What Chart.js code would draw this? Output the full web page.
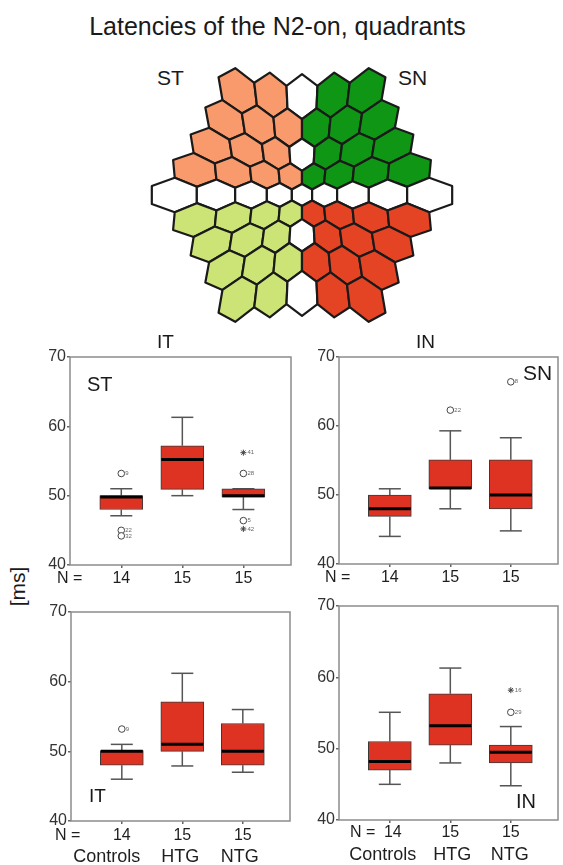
<!DOCTYPE html>
<html>
<head>
<meta charset="utf-8">
<script src="https://cdn.jsdelivr.net/npm/chart.js@4.4.1/dist/chart.umd.min.js"></script>
<style>
  body { margin: 0; background: #fff; font-family: "Liberation Sans", Arial, sans-serif; color: #1a1a1a; }
  #page { position: relative; width: 563px; height: 865px; overflow: hidden; }
  .lbl { position: absolute; white-space: nowrap; line-height: 1; }
  canvas { position: absolute; }
</style>
</head>
<body>
<div id="page">
  <div class="lbl" style="left:0;width:555px;text-align:center;top:14px;font-size:25px;">Latencies of the N2-on, quadrants</div>
  <div class="lbl" style="left:157px;top:67px;font-size:21px;">ST</div>
  <div class="lbl" style="left:398px;top:67px;font-size:21px;">SN</div>
  <canvas id="hex" width="350" height="290" style="left:130px;top:50px;"></canvas>

  <div class="lbl" style="left:157px;top:332px;font-size:19px;">IT</div>
  <div class="lbl" style="left:416px;top:332px;font-size:19px;">IN</div>
  <div class="lbl" style="left:-7px;top:576px;width:48px;text-align:center;font-size:21px;transform:rotate(-90deg);">[ms]</div>

  <canvas id="st" width="270" height="260" style="left:30px;top:345px;"></canvas>
  <canvas id="sn" width="264" height="259" style="left:299px;top:345px;"></canvas>
  <canvas id="it" width="269" height="265" style="left:31px;top:600px;"></canvas>
  <canvas id="in" width="264" height="271" style="left:299px;top:594px;"></canvas>

  <div class="lbl" style="left:87px;top:374px;font-size:20px;">ST</div>
  <div class="lbl" style="left:523px;top:362px;font-size:21px;">SN</div>
  <div class="lbl" style="left:89px;top:786px;font-size:19px;">IT</div>
  <div class="lbl" style="left:516px;top:791px;font-size:20px;">IN</div>
</div>
<script>
// hexagon field: number of cells per row, top to bottom
const hexRowCounts = [5, 6, 7, 8, 9, 8, 7, 6, 5];
const quadrantFill = { ST: '#F89A6B', SN: '#0E9614', IT: '#CCE475', IN: '#E54424' };

// box plot groups
const groups = ['Controls', 'HTG', 'NTG'];
const groupN = ['14', '15', '15'];

// ST quadrant
const stLow = [47.1, 50, 48];
const stQ1 = [48, 50.9, 49.8];
const stMedian = [49.8, 55.2, 50];
const stQ3 = [50, 57.2, 51];
const stHigh = [51, 61.3, 51];
const stOutX = [1, 1, 1, 3, 3, 3, 3];
const stOutY = [53.2, 45.0, 44.2, 56.2, 53.2, 46.4, 45.2];
const stOutStar = [0, 0, 0, 1, 0, 0, 1];
const stOutId = ['9', '22', '32', '41', '28', '5', '42'];

// SN quadrant
const snLow = [44, 48, 44.8];
const snQ1 = [46.9, 50.9, 48];
const snMedian = [48, 51, 50];
const snQ3 = [50, 55.1, 55.1];
const snHigh = [50.9, 59.3, 58.3];
const snOutX = [2, 3];
const snOutY = [62.3, 66.4];
const snOutStar = [0, 0];
const snOutId = ['22', '8'];

// IT quadrant
const itLow = [46, 47.9, 47];
const itQ1 = [48, 50, 48];
const itMedian = [50, 51, 50];
const itQ3 = [50.1, 57.1, 54];
const itHigh = [51, 61.2, 56];
const itOutX = [1];
const itOutY = [53.2];
const itOutStar = [0];
const itOutId = ['9'];

// IN quadrant
const inLow = [45, 48, 44.8];
const inQ1 = [47, 50.5, 48];
const inMedian = [48.2, 53.2, 49.5];
const inQ3 = [51, 57.7, 50.5];
const inHigh = [55.1, 61.3, 53.1];
const inOutX = [3, 3];
const inOutY = [58.2, 55.1];
const inOutStar = [1, 0];
const inOutId = ['16', '29'];

const FONT = '"Liberation Sans", Arial, sans-serif';

// ---------- hexagon chart ----------
const SQ3 = Math.sqrt(3);
const warp = (x, y) => {
  const f = 1 + 0.182 * Math.hypot(x, y);
  return [x * f, y * f];
};
const hexCells = [];
hexRowCounts.forEach((n, row) => {
  const k = row - 4;
  for (let i = 0; i < n; i++) {
    const cx = i - (n - 1) / 2;
    const cy = -k * SQ3 / 2;
    let q = null;
    if (cx !== 0 && cy !== 0) q = (cy > 0 ? 'S' : 'I') + (cx < 0 ? 'T' : 'N');
    hexCells.push({ cx, cy, q });
  }
});

const hexPlugin = {
  id: 'hexCells',
  beforeDatasetsDraw(chart) {
    const { ctx, scales: { x, y } } = chart;
    const s = 1 / SQ3;
    ctx.save();
    ctx.lineJoin = 'round';
    ctx.lineWidth = 2.2;
    ctx.strokeStyle = '#1a1a1a';
    hexCells.forEach(c => {
      ctx.beginPath();
      for (let j = 0; j < 6; j++) {
        const a = Math.PI / 2 + j * Math.PI / 3;
        const [wx, wy] = warp(c.cx + s * Math.cos(a), c.cy + s * Math.sin(a));
        const px = x.getPixelForValue(wx), py = y.getPixelForValue(wy);
        j ? ctx.lineTo(px, py) : ctx.moveTo(px, py);
      }
      ctx.closePath();
      ctx.fillStyle = c.q ? quadrantFill[c.q] : '#ffffff';
      ctx.fill();
      ctx.stroke();
    });
    ctx.restore();
  }
};

new Chart(document.getElementById('hex'), {
  type: 'scatter',
  data: { datasets: [{ data: hexCells.map(c => { const [x, y] = warp(c.cx, c.cy); return { x, y }; }), pointRadius: 0 }] },
  options: {
    responsive: false, animation: false, events: [],
    layout: { padding: 0 },
    plugins: { legend: { display: false }, tooltip: { enabled: false } },
    scales: {
      x: { type: 'linear', display: false, min: -9.383, max: 9.711 },
      y: { type: 'linear', display: false, min: -8.415, max: 8.415 }
    }
  },
  plugins: [hexPlugin]
});

// ---------- box plots ----------
const line = (ctx, x1, y1, x2, y2) => { ctx.beginPath(); ctx.moveTo(x1, y1); ctx.lineTo(x2, y2); ctx.stroke(); };

const boxPlugin = {
  id: 'boxExtras',
  beforeDatasetsDraw(chart, args, o) {
    const { ctx, scales: { x, y } } = chart;
    ctx.save();
    ctx.strokeStyle = '#555';
    ctx.lineWidth = 1.5;
    o.q1.forEach((q, i) => {
      const cx = x.getPixelForValue(i + 1);
      const lo = y.getPixelForValue(o.low[i]), hi = y.getPixelForValue(o.high[i]);
      line(ctx, cx, lo, cx, y.getPixelForValue(o.q1[i]));
      line(ctx, cx, hi, cx, y.getPixelForValue(o.q3[i]));
      line(ctx, cx - 11, lo, cx + 11, lo);
      line(ctx, cx - 11, hi, cx + 11, hi);
    });
    ctx.restore();
  },
  afterDatasetsDraw(chart, args, o) {
    const { ctx, chartArea: a, scales: { x, y } } = chart;
    ctx.save();
    ctx.strokeStyle = '#000';
    ctx.lineWidth = 3;
    o.median.forEach((m, i) => {
      const cx = x.getPixelForValue(i + 1), py = y.getPixelForValue(m);
      line(ctx, cx - 21, py, cx + 21, py);
    });
    // outlier case numbers
    ctx.fillStyle = '#666';
    ctx.font = '6px ' + FONT;
    ctx.textBaseline = 'middle';
    o.outX.forEach((v, i) => {
      ctx.fillText(o.outId[i], x.getPixelForValue(v) + 4, y.getPixelForValue(o.outY[i]));
    });
    // frame
    ctx.strokeStyle = '#8c8c8c';
    ctx.lineWidth = 1.5;
    ctx.strokeRect(a.left, a.top, a.right - a.left, a.bottom - a.top);
    // N row and group names
    ctx.fillStyle = '#1e1e1e';
    ctx.textBaseline = 'alphabetic';
    ctx.font = '16px ' + FONT;
    ctx.textAlign = 'left';
    ctx.fillText('N =', a.left + o.nX, a.bottom + o.nY);
    ctx.textAlign = 'center';
    groupN.forEach((n, i) => ctx.fillText(n, x.getPixelForValue(i + 1) + (o.nShift ? o.nShift[i] : 0), a.bottom + o.nY));
    if (o.showGroups) {
      ctx.font = '18px ' + FONT;
      groups.forEach((g, i) => ctx.fillText(g, x.getPixelForValue(i + 1) + o.gShift[i], a.bottom + o.gY));
    }
    ctx.restore();
  }
};

function makeBoxChart(id, d, lay) {
  return new Chart(document.getElementById(id), {
    type: 'bar',
    data: {
      datasets: [
        {
          type: 'bar',
          data: groups.map((g, i) => ({ x: i + 1, y: [d.q1[i], d.q3[i]] })),
          backgroundColor: '#DE3323', borderColor: '#3a3a3a', borderWidth: 1,
          borderSkipped: false, barThickness: 43
        },
        {
          type: 'scatter',
          data: d.outX.map((v, i) => ({ x: v, y: d.outY[i] })),
          pointStyle: d.outStar.map(s => s ? 'star' : 'circle'),
          pointRadius: d.outStar.map(s => s ? 3 : 3.3),
          pointBackgroundColor: '#fff', pointBorderColor: '#444', pointBorderWidth: 1
        }
      ]
    },
    options: {
      responsive: false, animation: false, events: [],
      layout: { padding: { top: lay.top, right: lay.right, left: 0, bottom: 0 } },
      plugins: {
        legend: { display: false }, tooltip: { enabled: false },
        boxExtras: Object.assign({}, d, lay)
      },
      scales: {
        x: {
          type: 'linear', min: 0.16, max: 3.78, offset: false,
          afterBuildTicks: s => { s.ticks = [1, 2, 3].map(v => ({ value: v })); },
          afterFit: s => { s.height = lay.xH; },
          ticks: { display: false },
          grid: { drawOnChartArea: false, offset: false, tickLength: 3, color: '#666', lineWidth: 1.5 },
          border: { display: false }
        },
        y: {
          min: 40, max: 70,
          afterBuildTicks: s => { s.ticks = [40, 50, 60, 70].map(v => ({ value: v })); },
          afterFit: s => { s.width = 40; },
          ticks: { color: '#333', font: { family: FONT, size: 16 }, padding: 1 },
          grid: { drawOnChartArea: false, tickLength: 3, color: '#666', lineWidth: 1.5 },
          border: { display: false }
        }
      }
    },
    plugins: [boxPlugin]
  });
}

makeBoxChart('st',
  { low: stLow, q1: stQ1, median: stMedian, q3: stQ3, high: stHigh, outX: stOutX, outY: stOutY, outStar: stOutStar, outId: stOutId },
  { top: 12, right: 9, xH: 40, nX: -13, nY: 18, showGroups: false });
makeBoxChart('sn',
  { low: snLow, q1: snQ1, median: snMedian, q3: snQ3, high: snHigh, outX: snOutX, outY: snOutY, outStar: snOutStar, outId: snOutId },
  { top: 12, right: 4, xH: 40, nX: -14, nY: 18, showGroups: false });
makeBoxChart('it',
  { low: itLow, q1: itQ1, median: itMedian, q3: itQ3, high: itHigh, outX: itOutX, outY: itOutY, outStar: itOutStar, outId: itOutId },
  { top: 12, right: 10, xH: 44, nX: -16, nY: 18.5, gY: 41, gShift: [-15, -2, -3], showGroups: true });
makeBoxChart('in',
  { low: inLow, q1: inQ1, median: inMedian, q3: inQ3, high: inHigh, outX: inOutX, outY: inOutY, outStar: inOutStar, outId: inOutId },
  { top: 12, right: 1, xH: 45, nX: 11, nY: 17, nShift: [3, 0, 0], gY: 40, gShift: [-7, 2, -1], showGroups: true });
</script>
</body>
</html>
